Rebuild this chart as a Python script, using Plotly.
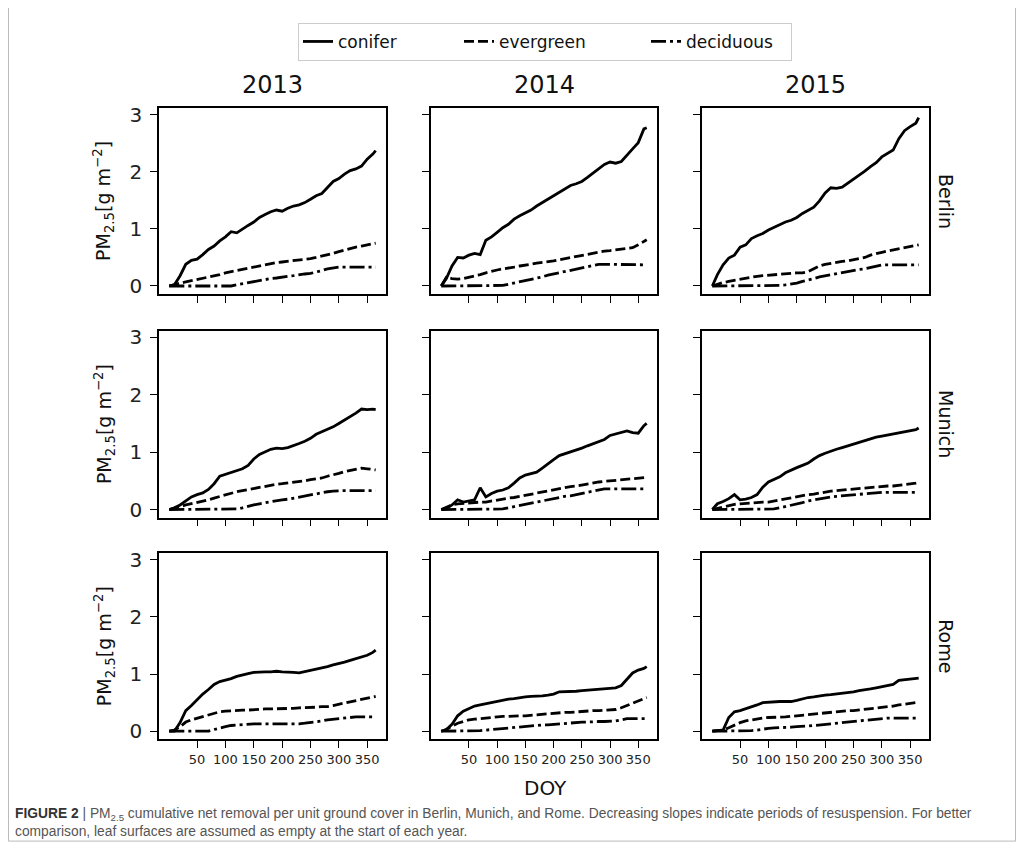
import plotly.graph_objects as go

# ---------------- data ----------------
DOY = [1, 10, 20, 30, 40, 50, 60, 70, 80, 90, 100, 110, 120, 130, 140, 150, 160, 170, 180,
       190, 200, 210, 220, 230, 240, 250, 260, 270, 280, 290, 300, 310, 320, 330, 340, 350,
       360, 365]

YEARS = ["2013", "2014", "2015"]
CITIES = ["Berlin", "Munich", "Rome"]
TYPES = ["conifer", "evergreen", "deciduous"]
X_TICKS = [50, 100, 150, 200, 250, 300, 350]
Y_TICKS = [0, 1, 2, 3]

berlin_2013_conifer = [0, 0.02, 0.18, 0.38, 0.45, 0.47, 0.55, 0.64, 0.70, 0.79, 0.86, 0.95, 0.93, 1.00,
                       1.06, 1.12, 1.20, 1.25, 1.30, 1.33, 1.31, 1.36, 1.40, 1.42, 1.46, 1.52, 1.58,
                       1.62, 1.72, 1.83, 1.88, 1.96, 2.02, 2.05, 2.10, 2.22, 2.31, 2.37]
berlin_2013_evergreen = [0, 0.03, 0.05, 0.07, 0.09, 0.11, 0.13, 0.15, 0.18, 0.20, 0.23, 0.25, 0.28,
                         0.30, 0.32, 0.34, 0.36, 0.38, 0.39, 0.41, 0.42, 0.43, 0.44, 0.45, 0.46, 0.48,
                         0.50, 0.52, 0.55, 0.57, 0.60, 0.63, 0.65, 0.68, 0.70, 0.72, 0.74, 0.75]
berlin_2013_deciduous = [0, 0, 0, 0, 0, 0, 0, 0, 0, 0, 0, 0.0, 0.02, 0.04, 0.06, 0.08, 0.10, 0.11,
                         0.13, 0.14, 0.16, 0.17, 0.18, 0.20, 0.21, 0.22, 0.24, 0.27, 0.30, 0.32, 0.33,
                         0.33, 0.33, 0.33, 0.33, 0.33, 0.33, 0.33]

berlin_2014_conifer = [0, 0.13, 0.35, 0.50, 0.49, 0.54, 0.57, 0.55, 0.80, 0.86, 0.94, 1.02, 1.08, 1.17,
                       1.23, 1.28, 1.33, 1.40, 1.46, 1.53, 1.58, 1.65, 1.70, 1.76, 1.79, 1.83, 1.90,
                       1.98, 2.06, 2.13, 2.17, 2.15, 2.18, 2.30, 2.40, 2.51, 2.75, 2.77]
berlin_2014_evergreen = [0, 0.15, 0.13, 0.12, 0.13, 0.15, 0.17, 0.20, 0.23, 0.26, 0.28, 0.30, 0.31,
                         0.33, 0.35, 0.36, 0.38, 0.40, 0.41, 0.43, 0.44, 0.46, 0.48, 0.50, 0.51, 0.53,
                         0.55, 0.57, 0.59, 0.61, 0.62, 0.63, 0.64, 0.66, 0.67, 0.72, 0.78, 0.81]
berlin_2014_deciduous = [0, 0, 0, 0, 0, 0, 0, 0, 0, 0, 0, 0.01, 0.03, 0.05, 0.07, 0.09, 0.12, 0.14,
                         0.16, 0.19, 0.21, 0.23, 0.25, 0.27, 0.29, 0.31, 0.33, 0.35, 0.38, 0.38, 0.38,
                         0.38, 0.38, 0.38, 0.37, 0.37, 0.37, 0.37]

berlin_2015_conifer = [0, 0.20, 0.37, 0.49, 0.54, 0.68, 0.72, 0.83, 0.88, 0.92, 0.98, 1.03, 1.08, 1.12,
                       1.15, 1.20, 1.27, 1.32, 1.38, 1.49, 1.63, 1.72, 1.71, 1.73, 1.80, 1.86, 1.94,
                       2.01, 2.09, 2.16, 2.26, 2.32, 2.38, 2.58, 2.72, 2.79, 2.85, 2.95]
berlin_2015_evergreen = [0, 0.03, 0.06, 0.08, 0.10, 0.12, 0.14, 0.16, 0.17, 0.18, 0.19, 0.20, 0.21,
                         0.21, 0.22, 0.23, 0.23, 0.25, 0.30, 0.35, 0.38, 0.40, 0.41, 0.43, 0.44, 0.46,
                         0.48, 0.50, 0.54, 0.57, 0.59, 0.61, 0.63, 0.65, 0.66, 0.68, 0.71, 0.72]
berlin_2015_deciduous = [0, 0, 0, 0, 0, 0, 0, 0, 0, 0, 0, 0.0, 0.01, 0.02, 0.03, 0.05, 0.08, 0.10,
                         0.13, 0.16, 0.18, 0.20, 0.21, 0.23, 0.25, 0.27, 0.29, 0.30, 0.32, 0.35, 0.37,
                         0.37, 0.37, 0.37, 0.37, 0.37, 0.37, 0.37]

munich_2013_conifer = [0, 0.03, 0.08, 0.15, 0.22, 0.26, 0.29, 0.35, 0.45, 0.58, 0.61, 0.65, 0.68, 0.71,
                       0.77, 0.88, 0.96, 1.01, 1.05, 1.07, 1.06, 1.08, 1.11, 1.15, 1.19, 1.24, 1.31,
                       1.35, 1.39, 1.44, 1.50, 1.56, 1.61, 1.68, 1.75, 1.74, 1.75, 1.74]
munich_2013_evergreen = [0, 0.03, 0.05, 0.08, 0.10, 0.12, 0.14, 0.17, 0.20, 0.23, 0.26, 0.29, 0.31,
                         0.33, 0.35, 0.37, 0.39, 0.41, 0.43, 0.44, 0.45, 0.46, 0.47, 0.49, 0.50, 0.52,
                         0.53, 0.55, 0.58, 0.60, 0.63, 0.66, 0.68, 0.71, 0.72, 0.71, 0.70, 0.69]
munich_2013_deciduous = [0, 0, 0, 0, 0, 0, 0, 0, 0, 0, 0, 0, 0.01, 0.03, 0.06, 0.08, 0.10, 0.12,
                         0.14, 0.15, 0.17, 0.18, 0.20, 0.21, 0.23, 0.25, 0.27, 0.29, 0.31, 0.32, 0.33,
                         0.33, 0.33, 0.33, 0.33, 0.33, 0.33, 0.33]

munich_2014_conifer = [0, 0.02, 0.08, 0.17, 0.13, 0.15, 0.17, 0.38, 0.22, 0.28, 0.32, 0.34, 0.38, 0.46,
                       0.55, 0.60, 0.62, 0.65, 0.72, 0.80, 0.87, 0.94, 0.97, 1.00, 1.04, 1.07, 1.11,
                       1.15, 1.18, 1.22, 1.29, 1.32, 1.35, 1.37, 1.34, 1.33, 1.46, 1.50]
munich_2014_evergreen = [0, 0.04, 0.08, 0.10, 0.11, 0.12, 0.12, 0.13, 0.13, 0.15, 0.17, 0.18, 0.20,
                         0.21, 0.23, 0.25, 0.27, 0.29, 0.31, 0.33, 0.34, 0.36, 0.38, 0.40, 0.41, 0.43,
                         0.45, 0.47, 0.48, 0.49, 0.50, 0.51, 0.51, 0.52, 0.53, 0.54, 0.55, 0.56]
munich_2014_deciduous = [0, 0, 0, 0, 0, 0, 0, 0, 0, 0, 0, 0.01, 0.03, 0.05, 0.07, 0.09, 0.11, 0.13,
                         0.16, 0.18, 0.20, 0.21, 0.23, 0.24, 0.26, 0.28, 0.31, 0.33, 0.34, 0.36, 0.36,
                         0.36, 0.36, 0.36, 0.36, 0.36, 0.36, 0.36]

munich_2015_conifer = [0, 0.10, 0.14, 0.19, 0.26, 0.17, 0.18, 0.21, 0.26, 0.39, 0.48, 0.52, 0.57, 0.64,
                       0.69, 0.73, 0.77, 0.81, 0.88, 0.94, 0.98, 1.02, 1.05, 1.08, 1.11, 1.15, 1.18,
                       1.21, 1.23, 1.26, 1.28, 1.30, 1.32, 1.34, 1.35, 1.37, 1.39, 1.42]
munich_2015_evergreen = [0, 0.02, 0.05, 0.07, 0.09, 0.10, 0.11, 0.12, 0.12, 0.13, 0.13, 0.15, 0.17,
                         0.19, 0.21, 0.23, 0.24, 0.26, 0.27, 0.29, 0.30, 0.32, 0.33, 0.34, 0.35, 0.36,
                         0.36, 0.37, 0.38, 0.39, 0.40, 0.41, 0.41, 0.42, 0.43, 0.45, 0.46, 0.47]
munich_2015_deciduous = [0, 0, 0, 0, 0, 0, 0, 0, 0, 0, 0.0, 0.01, 0.03, 0.05, 0.08, 0.10, 0.12, 0.15,
                         0.17, 0.19, 0.20, 0.22, 0.23, 0.24, 0.25, 0.26, 0.27, 0.27, 0.28, 0.29, 0.30,
                         0.30, 0.30, 0.30, 0.30, 0.30, 0.30, 0.30]

rome_2013_conifer = [0, 0.0, 0.15, 0.36, 0.45, 0.55, 0.65, 0.73, 0.82, 0.87, 0.89, 0.92, 0.96, 0.99,
                     1.01, 1.03, 1.04, 1.04, 1.04, 1.05, 1.04, 1.04, 1.03, 1.02, 1.04, 1.06, 1.08,
                     1.10, 1.13, 1.16, 1.18, 1.21, 1.24, 1.27, 1.30, 1.33, 1.38, 1.42]
rome_2013_evergreen = [0, 0.02, 0.08, 0.16, 0.20, 0.23, 0.26, 0.29, 0.32, 0.34, 0.35, 0.36, 0.36,
                       0.37, 0.37, 0.38, 0.38, 0.39, 0.39, 0.39, 0.39, 0.40, 0.40, 0.41, 0.41, 0.41,
                       0.42, 0.43, 0.43, 0.45, 0.47, 0.49, 0.51, 0.53, 0.55, 0.57, 0.60, 0.61]
rome_2013_deciduous = [0, 0, 0, 0, 0, 0, 0, 0, 0.03, 0.06, 0.08, 0.10, 0.11, 0.12, 0.13, 0.13, 0.13,
                       0.13, 0.12, 0.12, 0.12, 0.12, 0.13, 0.13, 0.14, 0.15, 0.16, 0.18, 0.20, 0.21,
                       0.23, 0.24, 0.24, 0.25, 0.25, 0.25, 0.25, 0.25]

rome_2014_conifer = [0, 0.03, 0.12, 0.27, 0.35, 0.40, 0.44, 0.46, 0.48, 0.51, 0.53, 0.55, 0.56, 0.57,
                     0.59, 0.60, 0.61, 0.61, 0.62, 0.63, 0.65, 0.69, 0.69, 0.70, 0.70, 0.71, 0.72,
                     0.73, 0.74, 0.75, 0.75, 0.76, 0.80, 0.92, 1.02, 1.07, 1.10, 1.13]
rome_2014_evergreen = [0, 0.03, 0.09, 0.14, 0.17, 0.20, 0.21, 0.22, 0.24, 0.25, 0.25, 0.26, 0.26,
                       0.27, 0.27, 0.27, 0.28, 0.29, 0.30, 0.31, 0.31, 0.32, 0.33, 0.33, 0.34, 0.35,
                       0.35, 0.36, 0.36, 0.37, 0.38, 0.38, 0.41, 0.45, 0.50, 0.54, 0.58, 0.59]
rome_2014_deciduous = [0, 0, 0, 0, 0, 0, 0.0, 0.01, 0.02, 0.03, 0.04, 0.05, 0.06, 0.07, 0.08, 0.09,
                       0.10, 0.10, 0.11, 0.11, 0.12, 0.12, 0.13, 0.14, 0.15, 0.16, 0.16, 0.17, 0.17,
                       0.17, 0.17, 0.18, 0.20, 0.22, 0.22, 0.22, 0.22, 0.22]

rome_2015_conifer = [0, 0.01, 0.02, 0.24, 0.34, 0.36, 0.39, 0.42, 0.46, 0.50, 0.51, 0.52, 0.52, 0.52,
                     0.52, 0.54, 0.57, 0.59, 0.60, 0.62, 0.63, 0.64, 0.65, 0.66, 0.67, 0.69, 0.71,
                     0.72, 0.74, 0.76, 0.78, 0.80, 0.82, 0.89, 0.90, 0.91, 0.92, 0.93]
rome_2015_evergreen = [0, 0.01, 0.02, 0.06, 0.11, 0.15, 0.18, 0.20, 0.22, 0.23, 0.24, 0.24, 0.25,
                       0.25, 0.26, 0.27, 0.28, 0.30, 0.31, 0.32, 0.33, 0.34, 0.35, 0.35, 0.36, 0.36,
                       0.37, 0.38, 0.40, 0.41, 0.42, 0.43, 0.44, 0.46, 0.47, 0.49, 0.50, 0.51]
rome_2015_deciduous = [0, 0, 0, 0, 0, 0, 0, 0.01, 0.02, 0.04, 0.05, 0.06, 0.06, 0.07, 0.07, 0.08,
                       0.08, 0.09, 0.10, 0.11, 0.12, 0.13, 0.14, 0.15, 0.16, 0.18, 0.19, 0.20, 0.21,
                       0.22, 0.23, 0.23, 0.23, 0.23, 0.23, 0.23, 0.23, 0.23]

SERIES = {
    ("Berlin", "2013"): (berlin_2013_conifer, berlin_2013_evergreen, berlin_2013_deciduous),
    ("Berlin", "2014"): (berlin_2014_conifer, berlin_2014_evergreen, berlin_2014_deciduous),
    ("Berlin", "2015"): (berlin_2015_conifer, berlin_2015_evergreen, berlin_2015_deciduous),
    ("Munich", "2013"): (munich_2013_conifer, munich_2013_evergreen, munich_2013_deciduous),
    ("Munich", "2014"): (munich_2014_conifer, munich_2014_evergreen, munich_2014_deciduous),
    ("Munich", "2015"): (munich_2015_conifer, munich_2015_evergreen, munich_2015_deciduous),
    ("Rome", "2013"): (rome_2013_conifer, rome_2013_evergreen, rome_2013_deciduous),
    ("Rome", "2014"): (rome_2014_conifer, rome_2014_evergreen, rome_2014_deciduous),
    ("Rome", "2015"): (rome_2015_conifer, rome_2015_evergreen, rome_2015_deciduous),
}

# ---------------- layout geometry ----------------
# The page has an 8 px body margin, so the figure is 1008 x 847 and page
# pixel positions are converted with an offset.
OX, OY = 8, 8
W, H = 1008, 847


def fx(px):
    return (px - OX) / W


def fy(py):
    return 1 - (py - OY) / H


COL_PX = [(159, 386), (431, 657), (702, 929)]
ROW_PX = [(104, 292), (329, 518), (554, 742)]
DASHES = ["solid", "10px,4px", "15px,4px,3px,4px"]
LEGEND_W = [116, 142, 100]
FONT = "DejaVu Sans"

fig = go.Figure()
layout = dict(
    width=W, height=H,
    margin=dict(l=0, r=0, t=0, b=0),
    paper_bgcolor="white", plot_bgcolor="white",
    font=dict(family=FONT, color="black"),
    showlegend=True,
)

for r, city in enumerate(CITIES):
    for c, year in enumerate(YEARS):
        k = r * 3 + c + 1
        xa = "x" if k == 1 else f"x{k}"
        ya = "y" if k == 1 else f"y{k}"
        for t, name in enumerate(TYPES):
            fig.add_trace(go.Scatter(
                x=DOY, y=SERIES[(city, year)][t], mode="lines", name=name,
                legendgroup=name, showlegend=(k == 1), legendwidth=LEGEND_W[t],
                line=dict(color="black", width=2.8, dash=DASHES[t]),
                xaxis=xa, yaxis=ya,
            ))
        x0, x1 = COL_PX[c]
        y0, y1 = ROW_PX[r]
        layout["xaxis" if k == 1 else f"xaxis{k}"] = dict(
            domain=[fx(x0), fx(x1)], anchor=ya, range=[-17.2, 383.2],
            tickvals=X_TICKS, ticks="outside", ticklen=7, tickwidth=1.4, tickcolor="black",
            showticklabels=(r == 2), tickfont=dict(size=13, family=FONT, color="#222"),
            showline=True, linecolor="black", linewidth=1.5, mirror=True,
            showgrid=False, zeroline=False, fixedrange=True,
        )
        layout["yaxis" if k == 1 else f"yaxis{k}"] = dict(
            domain=[fy(y1), fy(y0)], anchor=xa, range=[-0.14, 3.117],
            tickvals=Y_TICKS, ticks="outside", ticklen=7, tickwidth=1.4, tickcolor="black",
            showticklabels=(c == 0), tickfont=dict(size=20, family=FONT, color="#222"),
            ticklabelstandoff=4,
            showline=True, linecolor="black", linewidth=1.5, mirror=True,
            showgrid=False, zeroline=False, fixedrange=True,
        )

annotations = []
for c, year in enumerate(YEARS):
    xc = fx((COL_PX[c][0] + COL_PX[c][1]) / 2)
    annotations.append(dict(x=xc, y=fy(81), xref="paper", yref="paper", text=year,
                            showarrow=False, font=dict(size=24, family=FONT, color="#111"),
                            xanchor="center", yanchor="middle"))
for r, city in enumerate(CITIES):
    yc = fy((ROW_PX[r][0] + ROW_PX[r][1]) / 2)
    annotations.append(dict(x=fx(946), y=yc, xref="paper", yref="paper", text=city,
                            textangle=90, showarrow=False,
                            font=dict(size=19, family=FONT, color="#111"),
                            xanchor="center", yanchor="middle"))
    annotations.append(dict(x=fx(104), y=yc, xref="paper", yref="paper",
                            text="PM<sub>2.5</sub>[g m<sup>\u22122</sup>]",
                            textangle=-90, showarrow=False,
                            font=dict(size=19, family=FONT, color="#111"),
                            xanchor="center", yanchor="middle"))
annotations.append(dict(x=fx(545), y=fy(791), xref="paper", yref="paper", text="DOY",
                        showarrow=False, font=dict(size=20, family=FONT, color="#111"),
                        xanchor="center", yanchor="middle"))
annotations.append(dict(
    x=fx(13), y=fy(807), xref="paper", yref="paper", xanchor="left", yanchor="top",
    align="left", showarrow=False,
    font=dict(size=13.8, family="Liberation Sans, Arial", color="#555"),
    text=("<b><span style='color:#333'>FIGURE 2</span></b> | PM<sub>2.5</sub> cumulative net removal per unit "
          "ground cover in Berlin, Munich, and Rome. Decreasing slopes indicate periods of "
          "resuspension. For better<br>comparison, leaf surfaces are assumed as empty at the start of each year."),
))
layout["annotations"] = annotations

layout["legend"] = dict(
    orientation="h", x=fx(298), xanchor="left", y=fy(18), yanchor="top",
    bordercolor="#cccccc", borderwidth=1, bgcolor="white",
    font=dict(size=17, family=FONT, color="#111"),
    entrywidthmode="pixels", tracegroupgap=0,
)
layout["shapes"] = [dict(type="rect", xref="paper", yref="paper",
                         x0=fx(8.5), x1=fx(1015.5), y0=fy(845), y1=fy(0),
                         line=dict(color="#bbbbbb", width=1))]

fig.update_layout(**layout)
fig.write_html("out.html")
